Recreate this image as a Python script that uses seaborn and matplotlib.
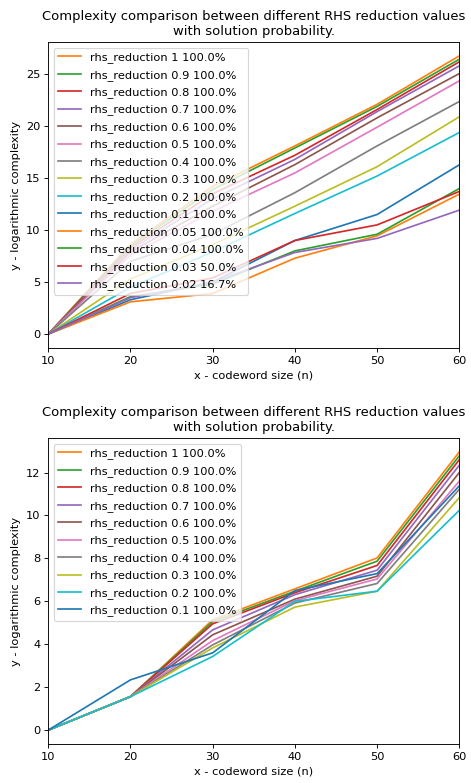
import matplotlib
matplotlib.use("Agg")
import matplotlib.pyplot as plt
import seaborn as sns
import pandas as pd

# ---------------- data ----------------
codeword_sizes = [10, 20, 30, 40, 50, 60]

top_reductions = ["1", "0.9", "0.8", "0.7", "0.6", "0.5", "0.4", "0.3", "0.2", "0.1",
                  "0.05", "0.04", "0.03", "0.02"]
top_probabilities = [100.0, 100.0, 100.0, 100.0, 100.0, 100.0, 100.0, 100.0, 100.0, 100.0,
                     100.0, 100.0, 50.0, 16.7]
top_r1 = [0, 8.65, 14.2, 18.1, 22.1, 26.76]
top_r09 = [0, 8.5, 13.9, 17.9, 21.9, 26.44]
top_r08 = [0, 8.3, 13.5, 17.2, 21.6, 26.19]
top_r07 = [0, 8.1, 13.0, 16.8, 21.4, 25.8]
top_r06 = [0, 7.9, 12.3, 16.3, 20.8, 25.06]
top_r05 = [0, 7.6, 11.8, 15.5, 19.9, 24.36]
top_r04 = [0, 7.0, 9.6, 13.6, 18.1, 22.37]
top_r03 = [0, 5.3, 8.6, 12.3, 16.1, 20.9]
top_r02 = [0, 4.5, 7.9, 11.6, 15.2, 19.39]
top_r01 = [0, 3.3, 5.0, 9.0, 11.5, 16.28]
top_r005 = [0, 3.1, 3.9, 7.3, 9.45, 13.46]
top_r004 = [0, 3.6, 4.8, 8.0, 9.6, 14.0]
top_r003 = [0, 3.9, 5.4, 9.0, 10.5, 13.72]
top_r002 = [0, 3.5, 5.0, 7.85, 9.2, 11.92]
top_values = [top_r1, top_r09, top_r08, top_r07, top_r06, top_r05, top_r04, top_r03,
              top_r02, top_r01, top_r005, top_r004, top_r003, top_r002]

bottom_reductions = ["1", "0.9", "0.8", "0.7", "0.6", "0.5", "0.4", "0.3", "0.2", "0.1"]
bottom_probabilities = [100.0] * 10
bot_r1 = [0, 1.56, 5.14, 6.58, 8.02, 12.96]
bot_r09 = [0, 1.56, 5.05, 6.47, 7.87, 12.78]
bot_r08 = [0, 1.56, 4.95, 6.40, 7.67, 12.60]
bot_r07 = [0, 1.56, 4.67, 6.31, 7.45, 12.34]
bot_r06 = [0, 1.56, 4.44, 6.10, 7.17, 12.00]
bot_r05 = [0, 1.56, 4.17, 6.03, 7.04, 11.60]
bot_r04 = [0, 1.56, 3.97, 5.92, 6.83, 11.22]
bot_r03 = [0, 1.56, 3.83, 5.73, 6.47, 10.83]
bot_r02 = [0, 1.56, 3.43, 6.00, 6.47, 10.24]
bot_r01 = [0, 2.34, 3.60, 6.50, 7.29, 11.38]
bottom_values = [bot_r1, bot_r09, bot_r08, bot_r07, bot_r06, bot_r05, bot_r04, bot_r03,
                 bot_r02, bot_r01]

title = "Complexity comparison between different RHS reduction values\nwith solution probability."
xlabel = "x - codeword size (n)"
ylabel = "y - logarithmic complexity"


def build_frame(reductions, probs, values):
    rows = []
    labels = []
    for red, p, vals in zip(reductions, probs, values):
        lab = f"rhs_reduction {red} {p}%"
        labels.append(lab)
        for x, y in zip(codeword_sizes, vals):
            rows.append({"n": x, "complexity": y, "series": lab})
    return pd.DataFrame(rows), labels


tab = sns.color_palette("tab10")
cycle = tab[1:] + tab[:1]

DPI = 81.5
fig = plt.figure(figsize=(471 / DPI, 783 / DPI), dpi=DPI)
ax1 = fig.add_axes([0.1025, 0.5556, 0.8727, 0.3908])
ax2 = fig.add_axes([0.1025, 0.0498, 0.8727, 0.3908])

for ax, reds, probs, vals in [(ax1, top_reductions, top_probabilities, top_values),
                              (ax2, bottom_reductions, bottom_probabilities, bottom_values)]:
    df, labels = build_frame(reds, probs, vals)
    pal = [cycle[i % len(cycle)] for i in range(len(labels))]
    sns.lineplot(data=df, x="n", y="complexity", hue="series", hue_order=labels,
                 palette=pal, ax=ax, linewidth=1.5, sort=False)
    ax.set_xlim(10, 60)
    ax.set_title(title, fontsize=11.6)
    ax.set_xlabel(xlabel)
    ax.set_ylabel(ylabel)
    ax.legend(loc="upper left", title=None, labelspacing=0.58)

fig.savefig("out.png", dpi=DPI)
